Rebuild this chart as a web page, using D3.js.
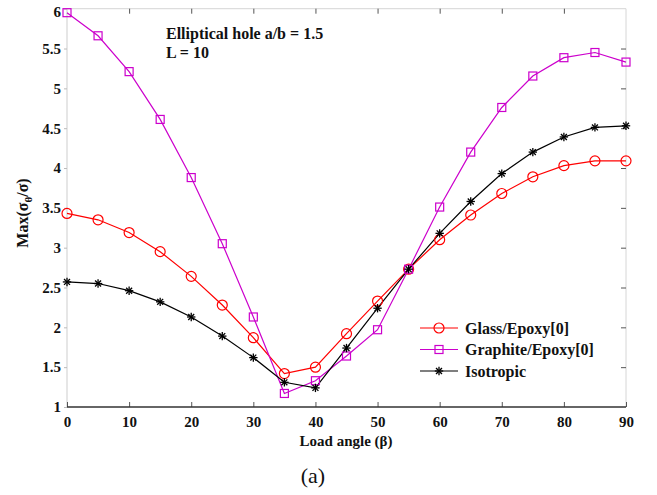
<!DOCTYPE html>
<html><head><meta charset="utf-8">
<script src="https://cdn.jsdelivr.net/npm/d3@7/dist/d3.min.js"></script>
<style>body{margin:0;background:#fff}svg{display:block}</style>
</head><body>
<svg id="c" width="657" height="495"></svg>
<script>
const angles = [0,5,10,15,20,25,30,35,40,45,50,55,60,65,70,75,80,85,90];
const glassEpoxy = [3.43,3.35,3.19,2.95,2.64,2.28,1.87,1.42,1.50,1.92,2.33,2.73,3.10,3.41,3.68,3.89,4.03,4.09,4.09];
const graphiteEpoxy = [5.95,5.66,5.21,4.61,3.88,3.05,2.13,1.17,1.33,1.64,1.97,2.73,3.51,4.20,4.76,5.155,5.385,5.45,5.33];
const isotropic = [2.57,2.55,2.46,2.32,2.13,1.89,1.62,1.31,1.24,1.74,2.24,2.73,3.18,3.58,3.93,4.20,4.39,4.51,4.53];
const xTicks = [0,10,20,30,40,50,60,70,80,90];
const yTicks = [1,1.5,2,2.5,3,3.5,4,4.5,5,5.5,6];
const seriesNames = ["Glass/Epoxy[0]","Graphite/Epoxy[0]","Isotropic"];

const svg = d3.select("#c");
const L = 67, R = 626, T = 8.7, B = 407;
const x = d3.scaleLinear().domain([0,90]).range([L,R]);
const y = d3.scaleLinear().domain([1,6]).range([B,T]);
const font = "'Liberation Serif', 'Times New Roman', serif";

// box
svg.append("line").attr("x1",L).attr("x2",R).attr("y1",T).attr("y2",T).attr("stroke","#d6d6d6");
svg.append("line").attr("x1",R).attr("x2",R).attr("y1",T).attr("y2",B).attr("stroke","#d6d6d6");
svg.append("line").attr("x1",L).attr("x2",L).attr("y1",T).attr("y2",B).attr("stroke","#d6d6d6").attr("stroke-width",1.2);

// ticks top/right (inward)
const tickCol = "#555";
svg.append("g").call(d3.axisTop(x).tickValues(xTicks.slice(1,-1)).tickSize(-5).tickFormat(""))
  .attr("transform",`translate(0,${T})`).call(g=>{g.select(".domain").remove();g.selectAll("line").attr("stroke",tickCol);});
svg.append("g").call(d3.axisRight(y).tickValues(yTicks.slice(1,-1)).tickSize(-5).tickFormat(""))
  .attr("transform",`translate(${R},0)`).call(g=>{g.select(".domain").remove();g.selectAll("line").attr("stroke",tickCol);});

// bottom axis
const xa = svg.append("g").attr("transform",`translate(0,${B})`)
  .call(d3.axisBottom(x).tickValues(xTicks).tickSize(-5).tickPadding(9).tickFormat(d3.format("d")));
xa.select(".domain").remove();
xa.selectAll("line").attr("stroke",tickCol);
xa.selectAll("text").attr("font-family",font).attr("font-weight","bold").attr("font-size",15).attr("fill","#111");
svg.append("line").attr("x1",L).attr("x2",R).attr("y1",B).attr("y2",B).attr("stroke","#333").attr("stroke-width",1.3);

// left axis
const ya = svg.append("g").attr("transform",`translate(${L},0)`)
  .call(d3.axisLeft(y).tickValues(yTicks).tickSize(3).tickPadding(3).tickFormat(d=>d3.format("")(d)));
ya.select(".domain").remove();
ya.selectAll("line").attr("stroke","#bbb");
ya.selectAll("text").attr("font-family",font).attr("font-weight","bold").attr("font-size",15).attr("fill","#111")
  .attr("dy", d => d===6 ? "0.55em" : "0.32em");

// lines
const line = d3.line().x((d,i)=>x(angles[i])).y(d=>y(d));
const cols = ["#ff0000","#cc00cc","#000000"];
const data = [glassEpoxy, graphiteEpoxy, isotropic];
data.forEach((s,k)=>{
  svg.append("path").attr("d",line(s)).attr("fill","none").attr("stroke",cols[k]).attr("stroke-width",1.2);
});

function marker(g, k, cx, cy){
  if(k===0){
    g.append("circle").attr("cx",cx).attr("cy",cy).attr("r",5).attr("fill","none").attr("stroke",cols[0]).attr("stroke-width",1.2);
  } else if(k===1){
    g.append("rect").attr("x",cx-4).attr("y",cy-4).attr("width",8).attr("height",8).attr("fill","none").attr("stroke",cols[1]).attr("stroke-width",1.2);
  } else {
    const r=4.2;
    for(let a=0;a<4;a++){
      const t = a*Math.PI/4;
      g.append("line").attr("x1",cx-r*Math.cos(t)).attr("y1",cy-r*Math.sin(t))
        .attr("x2",cx+r*Math.cos(t)).attr("y2",cy+r*Math.sin(t)).attr("stroke","#000").attr("stroke-width",1.3);
    }
  }
}
data.forEach((s,k)=>{
  const g = svg.append("g");
  s.forEach((v,i)=>marker(g,k,x(angles[i]),y(v)));
});

// legend
const lg = svg.append("g");
const ly = [328,349.5,371];
seriesNames.forEach((n,k)=>{
  lg.append("line").attr("x1",420).attr("x2",458).attr("y1",ly[k]).attr("y2",ly[k]).attr("stroke",cols[k]).attr("stroke-width",1.2);
  marker(lg,k,439,ly[k]);
  lg.append("text").attr("x",465).attr("y",ly[k]).attr("dy","0.35em").text(n)
    .attr("font-family",font).attr("font-weight","bold").attr("font-size",16).attr("fill","#111");
});

// annotation
svg.append("text").attr("x",166).attr("y",39).text("Elliptical hole a/b = 1.5")
  .attr("font-family",font).attr("font-weight","bold").attr("font-size",16).attr("fill","#111");
svg.append("text").attr("x",166).attr("y",58).text("L = 10")
  .attr("font-family",font).attr("font-weight","bold").attr("font-size",16).attr("fill","#111");

// axis titles
svg.append("text").attr("x",346).attr("y",446).attr("text-anchor","middle").text("Load angle (β)")
  .attr("font-family",font).attr("font-weight","bold").attr("font-size",15).attr("fill","#111");
const yt = svg.append("text").attr("transform","translate(28,213) rotate(-90)").attr("text-anchor","middle")
  .attr("font-family",font).attr("font-weight","bold").attr("font-size",16).attr("fill","#111");
yt.append("tspan").text("Max(σ");
yt.append("tspan").text("θ").attr("font-size",11).attr("dy",4);
yt.append("tspan").text("/σ)").attr("dy",-4);

svg.append("text").attr("x",313).attr("y",483).attr("text-anchor","middle").text("(a)")
  .attr("font-family",font).attr("font-size",22).attr("fill","#111");
</script>
</body></html>
